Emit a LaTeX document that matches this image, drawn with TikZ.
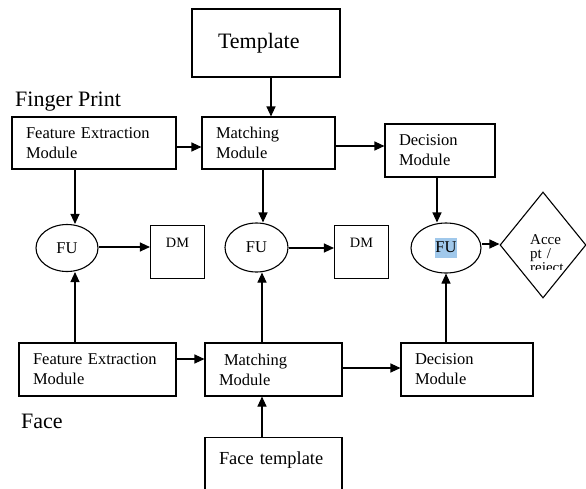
\documentclass[tikz,border=0pt]{standalone}
\usepackage{fontspec}
\setmainfont{Liberation Serif}
\usetikzlibrary{arrows.meta,shapes.geometric}
\definecolor{hl}{RGB}{160,200,235}
\begin{document}
\begin{tikzpicture}[x=1pt,y=-1pt,
  every node/.style={inner sep=0pt},
  arr/.style={line width=1.1pt,-{Triangle[length=10pt,width=9pt]}},
  box/.style={draw,line width=1.1pt,rectangle,align=left,font=\fontsize{16.5}{20}\selectfont,inner xsep=14pt},
  fu/.style={draw,line width=1.1pt,ellipse,font=\fontsize{16.5}{20}\selectfont},
  dmbox/.style={draw,line width=1.1pt,rectangle,minimum width=54pt,font=\fontsize{14.3}{17}\selectfont,text height=22pt,text depth=31pt,anchor=north},
  lbl/.style={font=\fontsize{22}{26}\selectfont,anchor=base west}]
\useasboundingbox (0,0) rectangle (586,488);
\clip (0,0) rectangle (586,488);

% top row
\node[box,minimum width=148pt,text width=96pt,minimum height=68pt,font=\fontsize{22}{26}\selectfont,inner xsep=26pt] (tpl) at (266,43) {Template};
\node[lbl] (fp) at (15,106) {Finger Print};
\node[box,text width=136pt,minimum height=52pt] (fe1) at (94,143) {Feature Extraction\\Module};
\node[box,text width=105pt,minimum height=52pt] (mm1) at (268.5,143) {Matching\\Module};
\node[box,text width=82pt,minimum height=53pt] (dc1) at (440,150.5) {Decision\\Module};

% middle row
\node[fu,minimum width=62pt,minimum height=47pt] (fu1) at (67,248) {FU};
\node[dmbox] (dm1) at (177.5,225) {DM};
\node[fu,minimum width=63pt,minimum height=49pt] (fu2) at (256.5,247.5) {FU};
\node[dmbox] (dm2) at (361.5,225) {DM};
\node[fu,minimum width=70pt,minimum height=50pt] (fu3) at (446,248) {\setlength\fboxsep{0pt}\colorbox{hl}{\strut FU}};
\node[draw,line width=1.1pt,diamond,minimum width=86pt,minimum height=106pt] (acc) at (543,245) {};
\begin{scope}
\clip (500,192) rectangle (586,269.5);
\node[anchor=base west,text width=50pt,align=left,font=\fontsize{15}{14}\selectfont] (acctext) at (530,244) {Acce\\pt /\\reject};
\end{scope}

% bottom row
\node[box,text width=129pt,minimum height=53pt] (fe2) at (97.5,369.5) {Feature Extraction\\Module};
\node[box,text width=109pt,minimum height=53pt] (mm2) at (273.5,369.5) {\hspace*{5pt}Matching\\Module};
\node[box,text width=104pt,minimum height=53pt] (dc2) at (467,369.5) {Decision\\Module};
\node[lbl] (face) at (21,428) {Face};
\node[draw,line width=1.1pt,rectangle,anchor=north,minimum width=137pt,text width=109pt,inner xsep=14pt,align=left,font=\fontsize{18.4}{22}\selectfont,text height=27pt,text depth=60pt] (ft) at (273.5,437) {Face template};

% helper coordinates
\coordinate (xt) at (271,0);
\coordinate (xa) at (75,0);
\coordinate (xb) at (263,0);
\coordinate (xb2) at (262,0);
\coordinate (xc) at (437,0);
\coordinate (xc2) at (446,0);
\coordinate (y1) at (0,147);
\coordinate (y2) at (0,146);
\coordinate (y3) at (0,247);
\coordinate (y4) at (0,248);
\coordinate (y5) at (0,244);
\coordinate (y6) at (0,359);
\coordinate (y7) at (0,368);

% connectors
\draw[arr] (tpl.south -| xt) -- (mm1.north -| xt);
\draw[arr] (fe1.east |- y1) -- (mm1.west |- y1);
\draw[arr] (mm1.east |- y2) -- (dc1.west |- y2);
\draw[arr] (fe1.south -| xa) -- (fu1.north -| xa);
\draw[arr] (mm1.south -| xb) -- (fu2.north -| xb);
\draw[arr] (dc1.south -| xc) -- (fu3.north -| xc);
\draw[arr] (fu1.east |- y3) -- (dm1.west |- y3);
\draw[arr] (fu2.east |- y4) -- (dm2.west |- y4);
\draw[arr] (fu3.east |- y5) -- (acc.west |- y5);
\draw[arr] (fe2.north -| xa) -- (fu1.south -| xa);
\draw[arr] (mm2.north -| xb2) -- (fu2.south -| xb2);
\draw[arr] (dc2.north -| xc2) -- (fu3.south);
\draw[arr] (fe2.east |- y6) -- (mm2.west |- y6);
\draw[arr] (mm2.east |- y7) -- (dc2.west |- y7);
\draw[arr] (ft.north -| xb2) -- (mm2.south -| xb2);
\end{tikzpicture}
\end{document}
